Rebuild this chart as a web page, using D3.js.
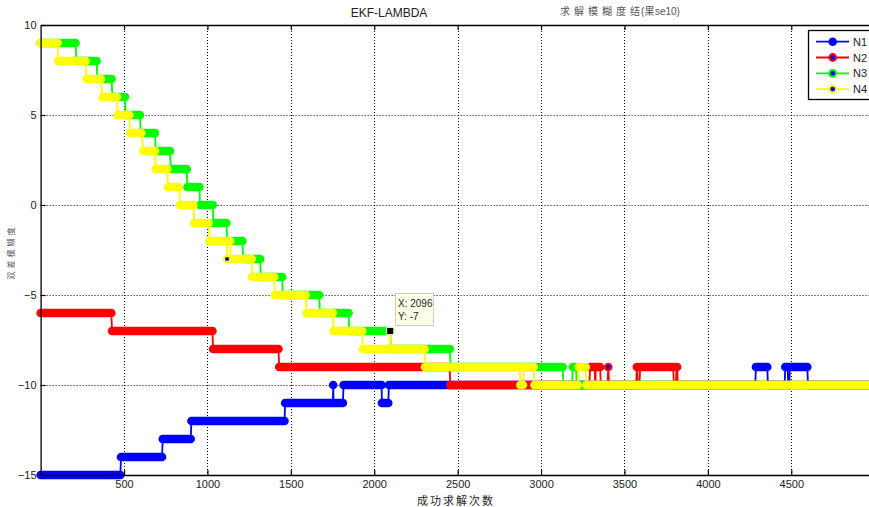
<!DOCTYPE html>
<html>
<head>
<meta charset="utf-8">
<script src="https://cdnjs.cloudflare.com/ajax/libs/d3/7.8.5/d3.min.js"></script>
<style>
body{margin:0;background:#fff;}
text{font-family:Arial,"Liberation Sans",sans-serif;}
.cjk{font-family:"Noto Sans CJK SC",sans-serif;}
</style>
</head>
<body>
<svg width="869" height="507"></svg>
<script>
// series names / colours
var seriesNames=["N1","N2","N3","N4"];
var seriesColors=["#0000ff","#ff0000","#00ff00","#ffff00"];

// tick values
var xTicks=[500,1000,1500,2000,2500,3000,3500,4000,4500];
var yTicks=[-15,-10,-5,0,5,10];

// steps: [x start, x end, ambiguity value]
var n1Steps=[[0,478,-15],[482,728,-14],[732,900,-13],[904,1462,-12],[1466,1752,-11],[1754,1754,-10],
    [1756,1812,-11],[1816,2044,-10],[2046,2084,-11],[2088,4284,-10],[4288,4356,-9],[4360,4460,-10],
    [4464,4478,-9],[4482,4488,-10],[4492,4596,-9],[4600,5000,-10]];
var n2Steps=[[0,424,-6],[428,1030,-7],[1034,1426,-8],[1430,2452,-9],[2456,3290,-10],[3294,3322,-9],
    [3324,3326,-10],[3328,3354,-9],[3358,3398,-10],[3403,3403,-9],[3408,3570,-10],[3574,3576,-9],
    [3580,3590,-10],[3594,3792,-9],[3796,3808,-10],[3812,3816,-9],[3820,5000,-10]];
var n3Steps=[[0,210,9],[214,336,8],[340,426,7],[430,506,6],[510,596,5],[600,686,4],[690,776,3],
    [780,876,2],[880,952,1],[956,1032,0],[1036,1114,-1],[1118,1210,-2],[1214,1316,-3],[1320,1448,-4],
    [1452,1670,-5],[1674,1846,-6],[1850,2096,-7],[2100,2454,-8],[2458,3130,-9],[3134,3186,-10],
    [3190,3210,-9],[3214,5000,-10]];
var n4Steps=[[0,102,9],[106,270,8],[276,362,7],[372,458,6],[462,532,5],[536,604,4],[616,686,3],
    [690,760,2],[764,830,1],[836,916,0],[920,1008,-1],[1012,1116,-2],[1118,1118,-3],[1122,1136,-2],
    [1140,1266,-3],[1268,1400,-4],[1404,1590,-5],[1594,1752,-6],[1756,1928,-7],[1932,2094,-8],
    [2096,2096,-7],[2098,2302,-8],[2304,2872,-9],[2876,2892,-10],[2896,2956,-9],[2960,3220,-10],
    [3225,3268,-9],[3272,5000,-10]];

// data tip
var tipX=2096, tipY=-7;

var allSteps=[n1Steps,n2Steps,n3Steps,n4Steps];

var svg=d3.select("svg");
svg.append("rect").attr("width",869).attr("height",507).attr("fill","#fff");

var x=d3.scaleLinear().domain([0,5000]).range([40.6,874.7]);
var y=d3.scaleLinear().domain([-15,10]).range([475,25]);

function snap(v){return Math.round(v)+0.5;}

//Grid
var grid=svg.append("g").attr("class","grid");
grid.selectAll("line.gx").data(xTicks).enter().append("line")
    .attr("x1",function(d){return snap(x(d));}).attr("x2",function(d){return snap(x(d));})
    .attr("y1",y(10)).attr("y2",y(-15))
    .attr("stroke","#000").attr("stroke-width",1).attr("stroke-dasharray","1,2");
grid.selectAll("line.gy").data(yTicks.slice(1,-1)).enter().append("line")
    .attr("x1",x(0)).attr("x2",x(5000))
    .attr("y1",function(d){return snap(y(d));}).attr("y2",function(d){return snap(y(d));})
    .attr("stroke","#000").attr("stroke-width",1).attr("stroke-dasharray","1,2");

//Series
var plot=svg.append("g").attr("class","plot");
function drawSeries(steps,color)
{
    var g=plot.append("g");
    var pts=[];
    steps.forEach(function(s){pts.push([s[0],s[2]]);pts.push([s[1],s[2]]);});
    var line=d3.line().x(function(d){return x(d[0]);}).y(function(d){return y(d[1]);});
    g.append("path").attr("d",line(pts))
        .attr("fill","none").attr("stroke",color).attr("stroke-width",1.8);

    g.selectAll("line.band")
        .data(steps.filter(function(s){return s[1]>s[0];}))
        .enter().append("line")
        .attr("class","band")
        .attr("x1",function(d){return x(d[0]);})
        .attr("x2",function(d){return x(d[1]);})
        .attr("y1",function(d){return y(d[2]);})
        .attr("y2",function(d){return y(d[2]);})
        .attr("stroke",color).attr("stroke-width",8.6).attr("stroke-linecap","round");

    g.selectAll("circle.pt")
        .data(steps.filter(function(s){return s[1]==s[0];}))
        .enter().append("circle")
        .attr("class","pt")
        .attr("cx",function(d){return x(d[0]);})
        .attr("cy",function(d){return y(d[2]);})
        .attr("r",3.2)
        .style("fill","#0000ff")
        .attr("stroke",color).attr("stroke-width",2.2);
}
allSteps.forEach(function(s,i){drawSeries(s,seriesColors[i]);});

//Axes
var axG=svg.append("g").attr("class","axes");
axG.append("g").attr("transform","translate(0,"+y(-15)+")")
    .call(d3.axisBottom(x).tickValues(xTicks).tickFormat(d3.format("d"))
        .tickSizeInner(-5).tickSizeOuter(0).tickPadding(5));
axG.append("g").attr("transform","translate(0,"+y(10)+")")
    .call(d3.axisTop(x).tickValues(xTicks).tickSizeInner(-5).tickSizeOuter(0).tickFormat(""));
axG.append("g").attr("transform","translate("+x(0)+",0)")
    .call(d3.axisLeft(y).tickValues(yTicks).tickSizeInner(-5).tickSizeOuter(0).tickPadding(4));
axG.selectAll("path.domain").attr("stroke","#000").attr("stroke-width",1.3);
axG.selectAll(".tick line").attr("stroke","#000").attr("stroke-width",1.2);
axG.selectAll(".tick text").attr("font-size",11).attr("fill","#222")
    .attr("font-family","Arial,'Liberation Sans',sans-serif");

//Titles
svg.append("text").attr("x",389).attr("y",17).attr("text-anchor","middle")
    .attr("font-size",12).attr("fill","#222").text("EKF-LAMBDA");
svg.append("text").attr("class","cjk").attr("x",560).attr("y",15)
    .attr("font-size",10).attr("fill","#555").attr("letter-spacing",4).text("求解模糊度结");
var caseText=svg.append("text").attr("x",641).attr("y",15)
    .attr("font-size",10).attr("fill","#555").attr("font-family","'Liberation Mono',monospace").text("(case10)");
// "果" is drawn over the "ca" of the case label, as in the original figure
var cNode=caseText.node();
var caStart=cNode.getStartPositionOfChar(1).x, caEnd=cNode.getEndPositionOfChar(2).x;
svg.append("rect").attr("x",caStart).attr("y",5).attr("width",caEnd-caStart).attr("height",12).style("fill","#fff");
svg.append("text").attr("class","cjk").attr("x",(caStart+caEnd)/2).attr("y",15).attr("text-anchor","middle")
    .attr("font-size",10).attr("fill","#555").text("果");

svg.append("text").attr("class","cjk").attr("x",456).attr("y",505).attr("text-anchor","middle")
    .attr("font-size",11).attr("fill","#222").attr("letter-spacing",2).text("成功求解次数");
svg.append("text").attr("class","cjk")
    .attr("transform","translate(14,252) rotate(-90)").attr("text-anchor","middle")
    .attr("font-size",8).attr("fill","#555").attr("letter-spacing",3).text("双差模糊度");

//Data tip
var tip=svg.append("g");
tip.append("rect").attr("x",x(tipX)-3.5).attr("y",y(tipY)-3.5).attr("width",7).attr("height",7)
    .style("fill","#000").attr("stroke","#fff").attr("stroke-width",0.8);
tip.append("rect").attr("x",395.5).attr("y",293.5).attr("width",38).attr("height",32)
    .style("fill","#ffffe8").attr("stroke","#ccc").attr("stroke-width",1);
tip.append("text").attr("x",398).attr("y",307).attr("font-size",10).attr("fill","#222").text("X: "+tipX);
tip.append("text").attr("x",398).attr("y",320).attr("font-size",10).attr("fill","#222").text("Y: "+tipY);

//Legend
var legend=svg.append("g").attr("class","legend");
legend.append("rect").attr("x",808.5).attr("y",30.5).attr("width",75).attr("height",69)
    .style("fill","#fff").attr("stroke","#000").attr("stroke-width",1.3);
var items=legend.selectAll("g.item").data(seriesNames).enter().append("g")
    .attr("class","item")
    .attr("transform",function(d,i){return "translate(0,"+(41.7+i*15.8)+")";});
items.append("line").attr("x1",816).attr("x2",849).attr("y1",0).attr("y2",0)
    .attr("stroke",function(d,i){return seriesColors[i];}).attr("stroke-width",1.8);
items.append("circle").attr("cx",832.7).attr("cy",0)
    .attr("r",function(d,i){return i==0?4.3:3.4;})
    .style("fill","#0000ff")
    .attr("stroke",function(d,i){return seriesColors[i];}).attr("stroke-width",function(d,i){return i==0?0:2;});
items.append("text").attr("x",853).attr("y",4).attr("font-size",11).attr("fill","#222")
    .text(function(d){return d;});
</script>
</body>
</html>
